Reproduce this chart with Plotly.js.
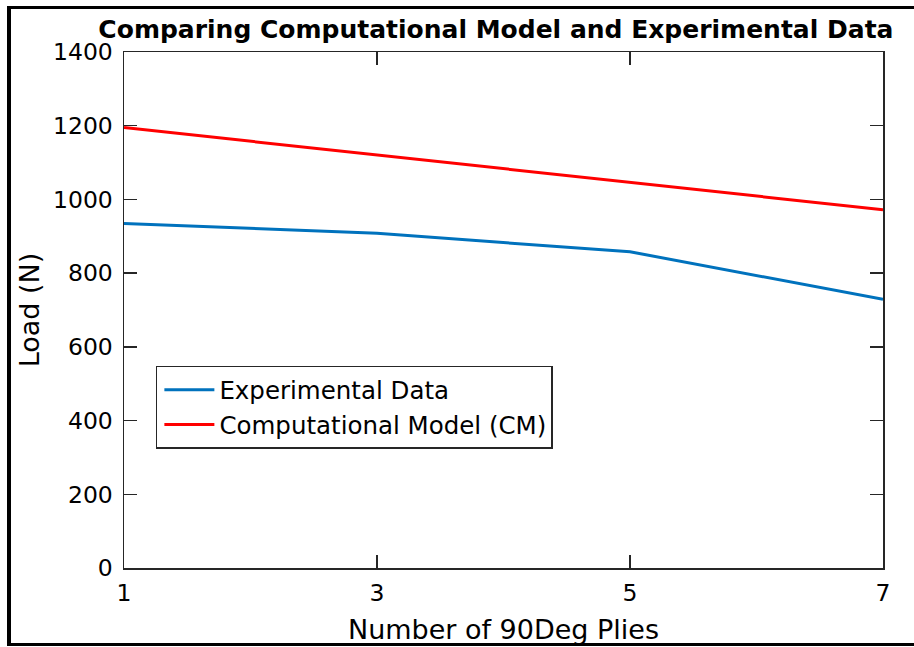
<!DOCTYPE html>
<html>
<head>
<meta charset="utf-8">
<script src="https://cdn.plot.ly/plotly-3.0.1.min.js"></script>
<style>
  html, body { margin: 0; padding: 0; background: #fff; }
  #wrap { position: relative; width: 914px; height: 647px; overflow: hidden; }
  #chart { position: absolute; left: 0; top: 0; width: 914px; height: 647px; }
  #frame { position: absolute; left: 7px; top: 6px; width: 930px; height: 634px; border: 3px solid #000; border-left-width: 4px; pointer-events: none; }
</style>
</head>
<body>
<div id="wrap">
  <div id="chart"></div>
  <div id="frame"></div>
</div>
<script>
const plies = [1, 3, 5, 7];
const experimental = [935, 908, 858, 729];
const computational = [1195, 1120, 1045, 972];
const seriesNames = ["Experimental Data", "Computational Model (CM)"];
const xTicks = [1, 3, 5, 7];
const yTicks = [0, 200, 400, 600, 800, 1000, 1200, 1400];

const FONT = "DejaVu Sans, Liberation Sans, Arial, sans-serif";
const AX = "#262626";

const traces = [
  { x: plies, y: experimental, name: seriesNames[0], mode: "lines",
    line: { color: "#0072BD", width: 3 } },
  { x: plies, y: computational, name: seriesNames[1], mode: "lines",
    line: { color: "#FF0000", width: 3 } }
];

const axisCommon = {
  showline: true, linecolor: AX, linewidth: 1.5, mirror: "ticks",
  ticks: "inside", ticklen: 13, tickwidth: 1.5, tickcolor: AX,
  showgrid: false, zeroline: false,
  tickfont: { family: FONT, size: 23.5, color: "#000" }
};

const layout = {
  width: 914, height: 647,
  margin: { l: 124, r: 31, t: 52, b: 79 },
  paper_bgcolor: "#fff", plot_bgcolor: "#fff",
  title: { text: "<b>Comparing Computational Model and Experimental Data</b>",
    font: { family: FONT, size: 25, color: "#000" },
    x: 0.490, xanchor: "center", xref: "paper", y: 1 - 29 / 647, yref: "container", yanchor: "middle" },
  xaxis: Object.assign({}, axisCommon, {
    range: [1, 7], tickvals: xTicks, ticktext: xTicks.map(String),
    ticklabelstandoff: 3,
    title: { text: "Number of 90Deg Plies", font: { family: FONT, size: 27, color: "#000" }, standoff: 14 }
  }),
  yaxis: Object.assign({}, axisCommon, {
    range: [0, 1400], tickvals: yTicks, ticktext: yTicks.map(String),
    ticklabelstandoff: 5,
    title: { text: "Load (N)", font: { family: FONT, size: 27, color: "#000" }, standoff: 5 }
  }),
  showlegend: true,
  legend: { x: 0.042, y: 0.392, xanchor: "left", yanchor: "top",
    bgcolor: "#fff", bordercolor: AX, borderwidth: 1.5, itemwidth: 52,
    font: { family: FONT, size: 24.5, color: "#000" } }
};

Plotly.newPlot("chart", traces, layout, { staticPlot: true }).then(function (gd) {
  // lengthen legend sample lines to match the reference
  gd.querySelectorAll(".legend .legendlines path").forEach(function (p) {
    p.setAttribute("d", "M7,0h50");
  });
});
</script>
</body>
</html>
